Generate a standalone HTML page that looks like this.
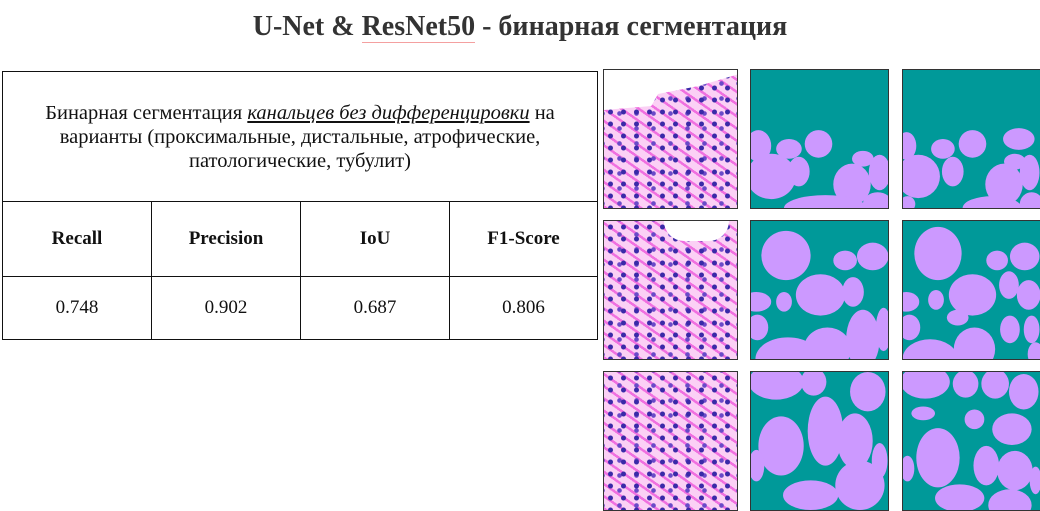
<!DOCTYPE html>
<html><head><meta charset="utf-8">
<style>
body{margin:0;width:1040px;height:511px;background:#fff;position:relative;overflow:hidden;font-family:"Liberation Serif","Noto Serif CJK SC",serif;}
#title{position:absolute;left:0;width:1040px;top:11px;text-align:center;font-size:28px;font-weight:bold;color:#333;}
#title u{text-decoration:none;border-bottom:1px solid #f4a0a0;}
table{position:absolute;left:2px;top:71px;width:596px;border-collapse:collapse;font-size:19px;color:#111;}
td{border:1.5px solid #111;text-align:center;padding:0;}
.tile{position:absolute;box-sizing:border-box;border:1.5px solid #333;overflow:hidden;}
.histo{background:
 radial-gradient(circle,#3a2aa8 0 2.2px,transparent 2.8px) 0 0/13px 12px,
 radial-gradient(circle,#6a4ac8 0 2px,transparent 2.6px) 7px 6px/17px 15px,
 repeating-linear-gradient(35deg,#f070e0 0 2.5px,#fbd0f5 2.5px 10px),
 #fbd6f7;}
.mask{background:#009999;}
</style></head><body>
<div id="title">U-Net &amp; <u>ResNet50</u> - бинарная сегментация</div>
<table>
<tr style="height:130px"><td colspan="4" style="padding:0 22px;line-height:24px;font-size:20.5px">Бинарная сегментация <i><u>канальцев без дифференцировки</u></i> на варианты (проксимальные, дистальные, атрофические, патологические, тубулит)</td></tr>
<tr style="height:75px;font-weight:bold">
<td style="width:148px">Recall</td>
<td style="width:148px">Precision</td>
<td style="width:148px">IoU</td>
<td>F1-Score</td></tr>
<tr style="height:63px">
<td>0.748</td>
<td>0.902</td>
<td>0.687</td>
<td>0.806</td></tr>
</table>

<div class="tile histo" style="left:603px;top:69px;width:135px;height:140px"><div style="position:absolute;left:0;top:0;width:135px;height:40px;background:#fff;clip-path:polygon(0 0,100% 0,100% 10%,70% 40%,40% 60%,35% 90%,0 100%)"></div></div>
<div class="tile histo" style="left:603px;top:220px;width:135px;height:140px"><div style="position:absolute;left:60px;top:0;width:65px;height:20px;background:#fff;border-radius:0 0 30px 30px"></div></div>
<div class="tile histo" style="left:603px;top:371px;width:135px;height:140px"></div>

<svg class="tile mask" style="left:750px;top:69px" width="139" height="140" viewBox="0 0 138 140"><g fill="#cc99ff">
<ellipse cx="7" cy="77" rx="13" ry="16"/><ellipse cx="20" cy="108" rx="25" ry="23"/><ellipse cx="38" cy="80" rx="13" ry="10"/><ellipse cx="68" cy="75" rx="14" ry="14"/><ellipse cx="48" cy="103" rx="11" ry="15"/><ellipse cx="102" cy="116" rx="19" ry="21"/><ellipse cx="113" cy="90" rx="11" ry="8"/><ellipse cx="130" cy="104" rx="11" ry="18"/><ellipse cx="75" cy="140" rx="42" ry="13"/><ellipse cx="128" cy="136" rx="15" ry="12"/></g></svg>
<svg class="tile mask" style="left:902px;top:69px" width="139" height="140" viewBox="0 0 138 140"><g fill="#cc99ff">
<ellipse cx="3" cy="77" rx="10" ry="14"/><ellipse cx="15" cy="108" rx="22" ry="22"/><ellipse cx="40" cy="80" rx="12" ry="10"/><ellipse cx="70" cy="75" rx="14" ry="14"/><ellipse cx="50" cy="103" rx="11" ry="15"/><ellipse cx="102" cy="116" rx="19" ry="21"/><ellipse cx="113" cy="93" rx="11" ry="8"/><ellipse cx="128" cy="104" rx="10" ry="18"/><ellipse cx="90" cy="140" rx="30" ry="12"/><ellipse cx="130" cy="136" rx="12" ry="12"/><ellipse cx="117" cy="70" rx="16" ry="11"/><ellipse cx="4" cy="136" rx="8" ry="8"/></g></svg>

<svg class="tile mask" style="left:750px;top:220px" width="139" height="140" viewBox="0 0 138 140"><g fill="#cc99ff">
<ellipse cx="35" cy="35" rx="25" ry="25"/><ellipse cx="70" cy="75" rx="25" ry="21"/><ellipse cx="95" cy="40" rx="12" ry="10"/><ellipse cx="123" cy="36" rx="16" ry="14"/><ellipse cx="103" cy="72" rx="11" ry="15"/><ellipse cx="5" cy="82" rx="15" ry="10"/><ellipse cx="33" cy="82" rx="8" ry="10"/><ellipse cx="6" cy="108" rx="11" ry="13"/><ellipse cx="37" cy="140" rx="33" ry="22"/><ellipse cx="77" cy="130" rx="24" ry="22"/><ellipse cx="113" cy="120" rx="17" ry="30"/><ellipse cx="134" cy="110" rx="8" ry="22"/></g></svg>
<svg class="tile mask" style="left:902px;top:220px" width="139" height="140" viewBox="0 0 138 140"><g fill="#cc99ff">
<ellipse cx="35" cy="33" rx="24" ry="27"/><ellipse cx="70" cy="75" rx="24" ry="21"/><ellipse cx="95" cy="40" rx="11" ry="10"/><ellipse cx="123" cy="36" rx="15" ry="14"/><ellipse cx="107" cy="65" rx="10" ry="14"/><ellipse cx="127" cy="75" rx="12" ry="15"/><ellipse cx="3" cy="82" rx="13" ry="10"/><ellipse cx="33" cy="80" rx="8" ry="10"/><ellipse cx="55" cy="98" rx="11" ry="8"/><ellipse cx="6" cy="108" rx="11" ry="13"/><ellipse cx="27" cy="140" rx="28" ry="20"/><ellipse cx="72" cy="130" rx="21" ry="22"/><ellipse cx="108" cy="110" rx="10" ry="14"/><ellipse cx="130" cy="110" rx="8" ry="14"/><ellipse cx="134" cy="135" rx="8" ry="12"/></g></svg>

<svg class="tile mask" style="left:750px;top:371px" width="139" height="140" viewBox="0 0 138 140"><g fill="#cc99ff">
<ellipse cx="25" cy="10" rx="28" ry="18"/><ellipse cx="63" cy="10" rx="13" ry="14"/><ellipse cx="118" cy="20" rx="18" ry="20"/><ellipse cx="30" cy="75" rx="23" ry="30"/><ellipse cx="75" cy="60" rx="18" ry="35"/><ellipse cx="105" cy="70" rx="18" ry="28"/><ellipse cx="5" cy="95" rx="8" ry="16"/><ellipse cx="60" cy="125" rx="28" ry="15"/><ellipse cx="110" cy="115" rx="25" ry="25"/><ellipse cx="130" cy="90" rx="8" ry="18"/></g></svg>
<svg class="tile mask" style="left:902px;top:371px" width="139" height="140" viewBox="0 0 138 140"><g fill="#cc99ff">
<ellipse cx="22" cy="10" rx="25" ry="17"/><ellipse cx="63" cy="12" rx="13" ry="14"/><ellipse cx="93" cy="12" rx="14" ry="15"/><ellipse cx="122" cy="20" rx="15" ry="18"/><ellipse cx="20" cy="42" rx="12" ry="7"/><ellipse cx="72" cy="48" rx="10" ry="10"/><ellipse cx="35" cy="87" rx="22" ry="30"/><ellipse cx="110" cy="58" rx="20" ry="16"/><ellipse cx="84" cy="95" rx="13" ry="20"/><ellipse cx="113" cy="100" rx="18" ry="20"/><ellipse cx="4" cy="98" rx="7" ry="13"/><ellipse cx="57" cy="128" rx="25" ry="14"/><ellipse cx="108" cy="135" rx="22" ry="16"/><ellipse cx="134" cy="110" rx="6" ry="14"/></g></svg>
</body></html>
